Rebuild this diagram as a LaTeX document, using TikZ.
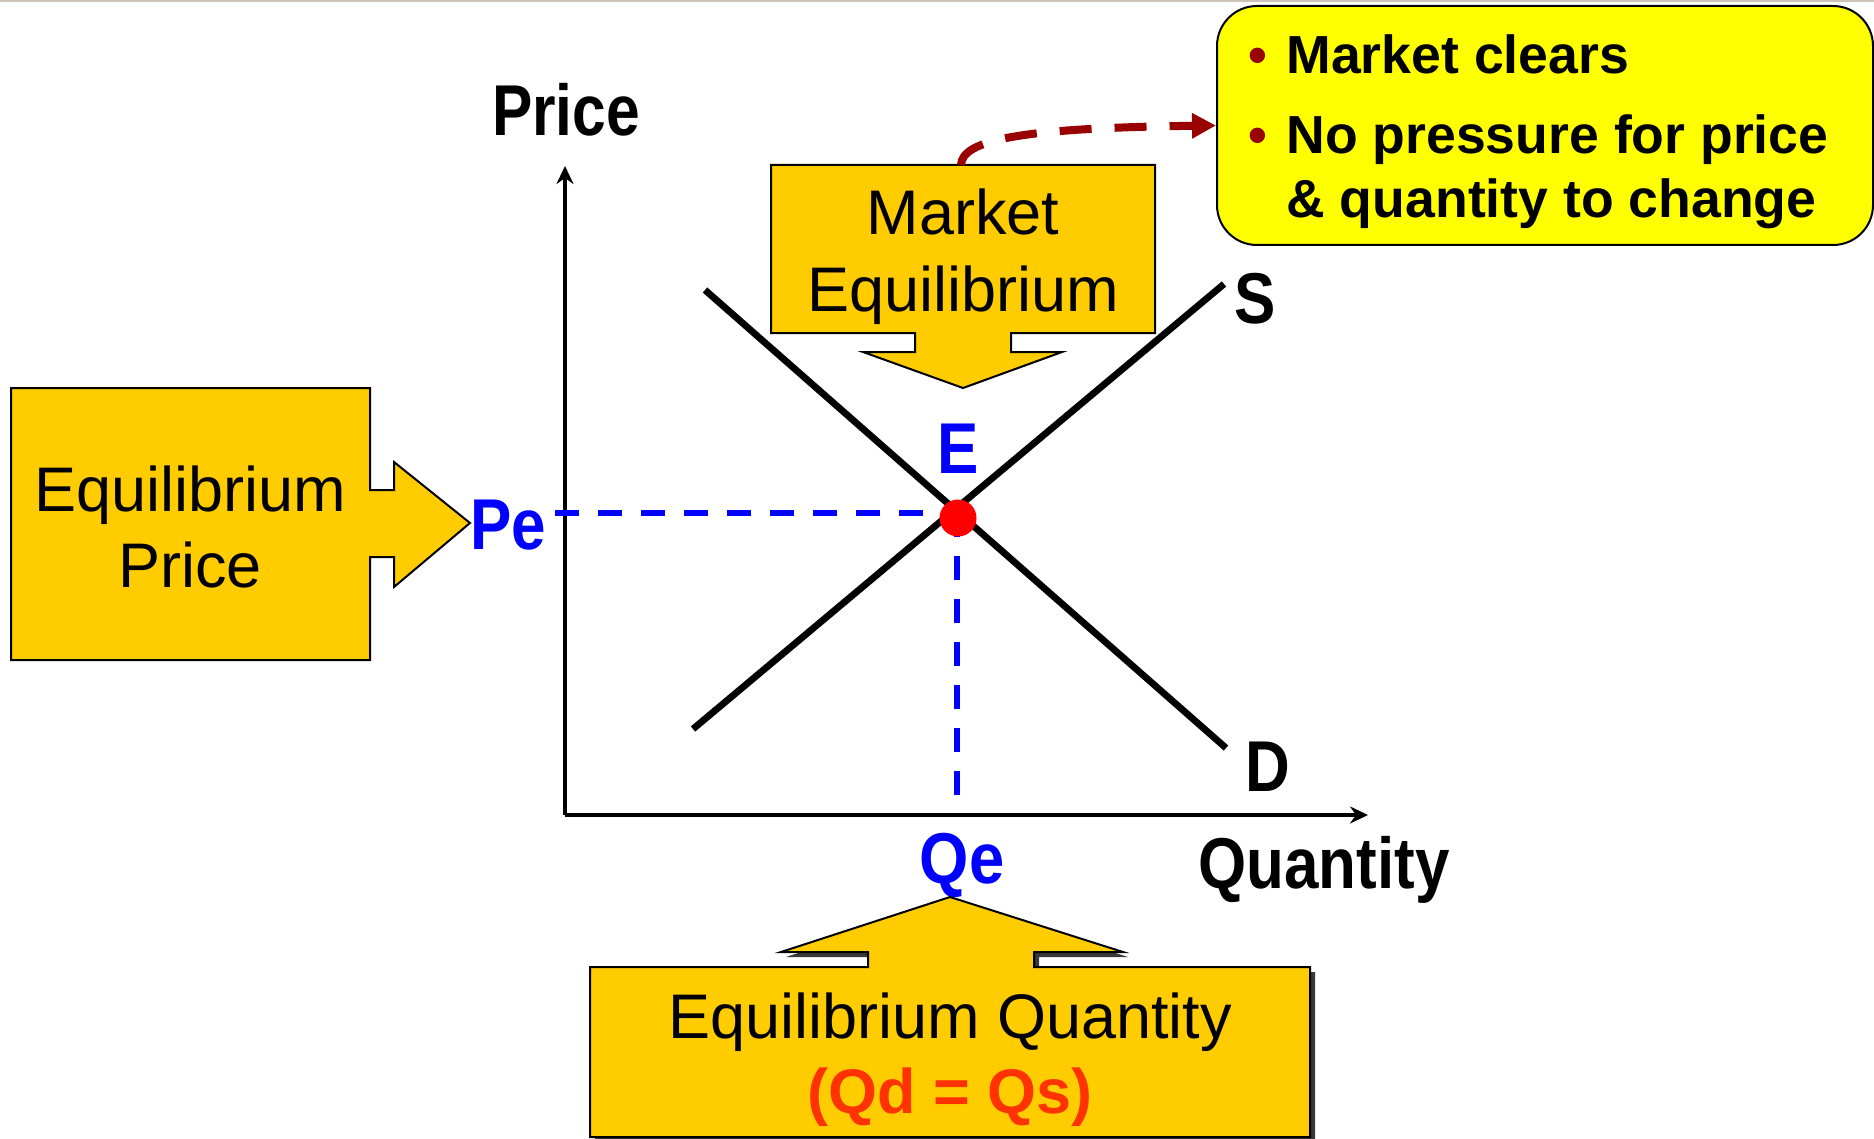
\documentclass[tikz,border=0pt]{standalone}
\usepackage{fontspec}
\setmainfont{Liberation Sans}
\usepackage{graphicx}
\usetikzlibrary{arrows.meta}
\definecolor{gold}{HTML}{FFCC00}
\definecolor{brightyellow}{HTML}{FFFF00}
\definecolor{eqblue}{HTML}{0000FF}
\definecolor{eqred}{HTML}{FF0000}
\definecolor{qdorange}{HTML}{FF3300}
\definecolor{darkred}{HTML}{990000}
\definecolor{topline}{RGB}{205,195,185}
\begin{document}
\begin{tikzpicture}[x=0.5pt,y=-0.5pt,
  ybox/.style={fill=gold, draw=black, line width=1pt, line join=miter},
  shadowbox/.style={fill=black!78, draw=none},
  boxtext/.style={font=\fontsize{31.5}{38}\selectfont, anchor=base, inner sep=0pt},
  axlabel/.style={font=\fontsize{36}{42}\selectfont\bfseries, anchor=base, inner sep=0pt},
  bluelabel/.style={axlabel, text=eqblue},
  calltext/.style={font=\fontsize{26.8}{32}\selectfont\bfseries, anchor=base west, inner sep=0pt},
  bulletmark/.style={font=\fontsize{26.8}{32}\selectfont\bfseries, anchor=base, inner sep=0pt, text=darkred},
  axis/.style={line width=2.3pt, -{Stealth[length=9pt,width=8.5pt,inset=3pt]}},
  curve/.style={line width=3.4pt, line cap=butt},
  bluedash/.style={eqblue, line width=3pt, dash pattern=on 12pt off 9.5pt},
  reddash/.style={darkred, line width=4pt, dash pattern=on 16pt off 11.5pt, -{Triangle[length=12pt,width=12pt]}}
]
\useasboundingbox (0,0) rectangle (1874,1139);
\draw[topline, line width=1pt] (0,1) -- (1874,1);

% ---------- axes ----------
\coordinate (origin) at (565,815);
\coordinate (ytip) at (565,166);
\coordinate (xtip) at (1368,815);
\draw[axis] (origin) -- (ytip);
\draw[axis] (origin) -- (xtip);
\node[axlabel] (price) at (566,136) {\scalebox{0.84}[1]{Price}};
\node[axlabel] (quantity) at (1324,888) {\scalebox{0.86}[1]{Quantity}};

% ---------- supply and demand ----------
\coordinate (s1) at (693,729);
\coordinate (s2) at (1224,284);
\coordinate (d1) at (705,290);
\coordinate (d2) at (1226,748);
\draw[curve] (s1) -- (s2);
\draw[curve] (d1) -- (d2);
\node[axlabel] (slabel) at (1255,323) {\scalebox{0.86}[1]{S}};
\node[axlabel] (dlabel) at (1268,791) {\scalebox{0.86}[1]{D}};

% ---------- equilibrium guides ----------
\coordinate (pestart) at (555,513);
\coordinate (eqh) at (957,513);
\coordinate (qeend) at (957,797);
\draw[bluedash] (pestart) -- (eqh);
\draw[bluedash] (eqh) -- (qeend);
\node[circle, fill=eqred, inner sep=0pt, minimum size=18.5pt] (E) at (958,518) {};
\node[bluelabel] (elabel) at (958,473) {\scalebox{0.86}[1]{E}};
\node[bluelabel] (pe) at (508,549) {\scalebox{0.86}[1]{Pe}};
\node[bluelabel] (qe) at (962,883) {\scalebox{0.88}[1]{Qe}};

% ---------- Equilibrium Price callout ----------
\draw[ybox] (11,388) -- (370,388) -- (370,490) -- (394,490) -- (394,462) -- (470,523)
  -- (394,587) -- (394,557) -- (370,557) -- (370,660) -- (11,660) -- cycle;
\node[boxtext] (ep1) at (190,511) {Equilibrium};
\node[boxtext] (ep2) at (190,587) {Price};

% ---------- Market Equilibrium callout ----------
\draw[ybox] (771,165) -- (1155,165) -- (1155,333) -- (1011,333) -- (1011,352) -- (1062,352)
  -- (963,388) -- (863,352) -- (915,352) -- (915,333) -- (771,333) -- cycle;
\node[boxtext] (me1) at (963,235) {Market};
\node[boxtext] (me2) at (963,312) {Equilibrium};
\coordinate (metop) at (961,165);

% ---------- Equilibrium Quantity callout ----------
\draw[shadowbox, shift={(5,5)}] (590,967) -- (868,967) -- (868,952) -- (781,952) -- (950,897)
  -- (1123,952) -- (1034,952) -- (1034,967) -- (1310,967) -- (1310,1137) -- (590,1137) -- cycle;
\draw[ybox] (590,967) -- (868,967) -- (868,952) -- (781,952) -- (950,897)
  -- (1123,952) -- (1034,952) -- (1034,967) -- (1310,967) -- (1310,1137) -- (590,1137) -- cycle;
\node[boxtext] (eq1) at (950,1038) {Equilibrium Quantity};
\node[boxtext, font=\fontsize{31.5}{38}\selectfont\bfseries, text=qdorange] (eq2) at (950,1113) {(Qd = Qs)};

% ---------- yellow note ----------
\node[fill=brightyellow, draw=black, line width=1pt, rounded corners=20pt,
      minimum width=328pt, minimum height=119.5pt, inner sep=0pt] (note) at (1545,125.5) {};
\node[bulletmark] (b1) at (1258,74) {•};
\node[calltext] (n1) at (1286,74) {Market clears};
\node[bulletmark] (b2) at (1258,154) {•};
\node[calltext] (n2) at (1286,154) {No pressure for price};
\node[calltext] (n3) at (1286,218) {\& quantity to change};

% ---------- connector ----------
\draw[reddash] (metop) .. controls (962,140) and (1020,128) .. (note.west);
\end{tikzpicture}
\end{document}
